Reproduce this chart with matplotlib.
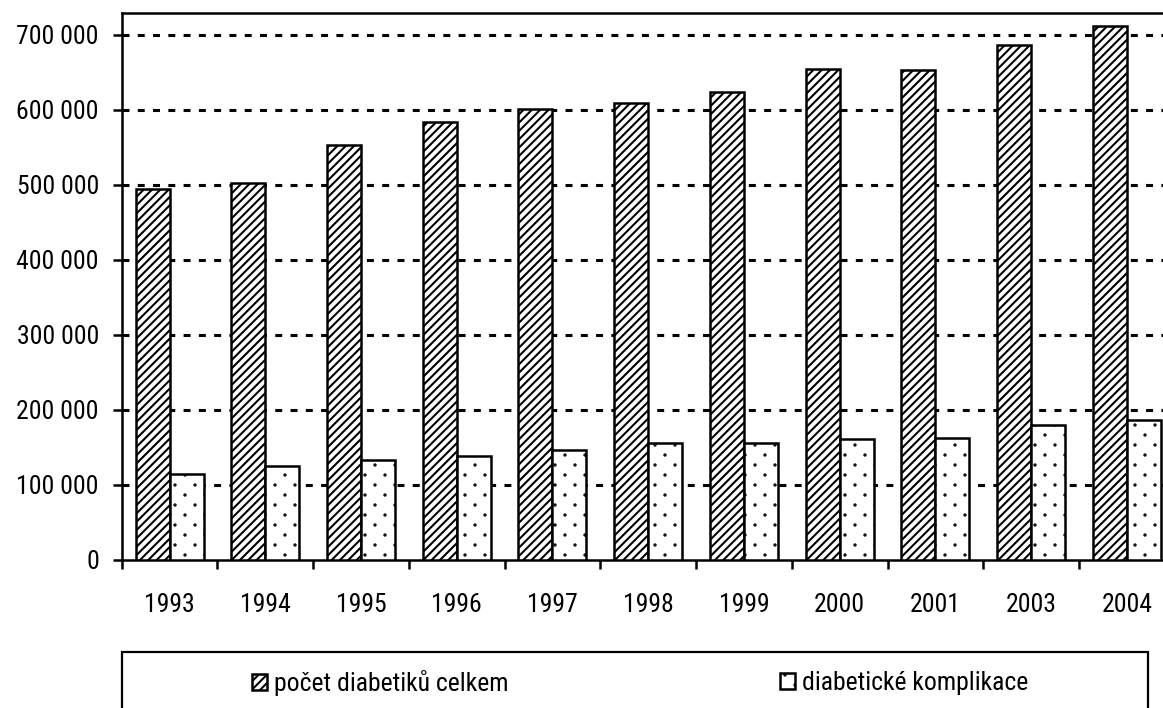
import matplotlib
matplotlib.use("Agg")
import matplotlib.pyplot as plt
import matplotlib.hatch as mhatch
from matplotlib.path import Path
from matplotlib.patches import Rectangle
from matplotlib.ticker import FixedLocator, FuncFormatter

years = ["1993", "1994", "1995", "1996", "1997", "1998", "1999", "2000", "2001", "2003", "2004"]
total_diabetics = [494700, 502700, 553000, 583600, 600900, 609800, 624400, 654700, 653000, 686700, 712400]
complications = [114700, 124400, 133300, 138700, 145800, 155600, 155600, 160900, 162700, 179600, 186700]
series_labels = ["počet diabetiků celkem", "diabetické komplikace"]
y_ticks = [0, 100000, 200000, 300000, 400000, 500000, 600000, 700000]


# sparse staggered dot pattern (like the reference's dotted fill)
class SparseDots(mhatch.HatchPatternBase):
    rows = 10
    cols = 5
    radius = 0.006

    def __init__(self, hatch, density):
        self.num_vertices = 0
        if hatch.count('.'):
            circle = Path.unit_circle()
            self.shape_vertices = circle.vertices * self.radius
            self.shape_codes = circle.codes
            pts = []
            for r in range(self.rows):
                y = (r + 0.5) / self.rows
                off = 0.0 if r % 2 == 0 else 0.5
                for c in range(self.cols):
                    pts.append(((c + 0.25 + off) / self.cols, y))
            self.pts = pts
            self.num_vertices = len(pts) * len(self.shape_vertices)

    def set_vertices_and_codes(self, vertices, codes):
        nv = len(self.shape_vertices)
        for i, (px, py) in enumerate(self.pts):
            vertices[i * nv:(i + 1) * nv] = self.shape_vertices + (px, py)
            codes[i * nv:(i + 1) * nv] = self.shape_codes


mhatch._hatch_types = [t for t in mhatch._hatch_types if t is not mhatch.SmallFilledCircles] + [SparseDots]

plt.rcParams['font.family'] = ['Roboto Condensed', 'Liberation Sans', 'DejaVu Sans']
plt.rcParams['hatch.linewidth'] = 1.5
plt.rcParams['lines.scale_dashes'] = False

FS = 18.5
W, H = 1163, 708
fig = plt.figure(figsize=(W / 100, H / 100), dpi=100)
left_px, right_px, top_px, bot_px = 121.7, 1174.7, 12.5, 559.5
ax = fig.add_axes([left_px / W, 1 - bot_px / H, (right_px - left_px) / W, (bot_px - top_px) / H])

n = len(years)
x = list(range(n))
bw = 0.355
b1 = ax.bar([i - bw / 2 for i in x], total_diabetics, width=bw, facecolor="white",
            edgecolor="black", linewidth=1.8, hatch="////", zorder=3, label=series_labels[0])
b2 = ax.bar([i + bw / 2 for i in x], complications, width=bw, facecolor="white",
            edgecolor="black", linewidth=1.8, hatch=".", zorder=3, label=series_labels[1])

ax.set_xlim(-0.5, n - 0.5)
ax.set_ylim(0, 730000)

ax.yaxis.set_major_locator(FixedLocator(y_ticks))
ax.yaxis.set_major_formatter(FuncFormatter(lambda v, p: f"{int(v):,}".replace(",", " ")))
for v in y_ticks[1:]:
    ax.axhline(v, color="black", linewidth=2.2, linestyle=(0, (5, 6)), zorder=1)

ax.set_xticks(x)
ax.set_xticklabels(years)
ax.set_xticks([i - 0.5 for i in range(n + 1)], minor=True)
ax.tick_params(axis="x", which="major", length=0, pad=24, labelsize=FS)
ax.tick_params(axis="x", which="minor", length=6.5, width=1.8, direction="out")
ax.tick_params(axis="y", which="major", length=6.5, width=1.8, direction="out", pad=10, labelsize=FS)

for s in ["left", "bottom", "top"]:
    ax.spines[s].set_linewidth(1.8)
ax.spines["right"].set_visible(False)

# legend frame
fig.patches.append(Rectangle((121.7 / W, -0.05), (1148 - 121.7) / W, 0.05 + (H - 652) / H,
                             transform=fig.transFigure, facecolor="none", edgecolor="black",
                             linewidth=1.6, clip_on=False))
leg_y = 1 - 683 / H
for handle, label, cx in [(b1, series_labels[0], 380 / W), (b2, series_labels[1], 904 / W)]:
    fig.legend(handles=[handle], labels=[label], loc="center", bbox_to_anchor=(cx, leg_y),
               frameon=False, fontsize=FS, handlelength=0.6, handleheight=0.6,
               handletextpad=0.25, borderpad=0)

fig.savefig("out.png", dpi=100)
